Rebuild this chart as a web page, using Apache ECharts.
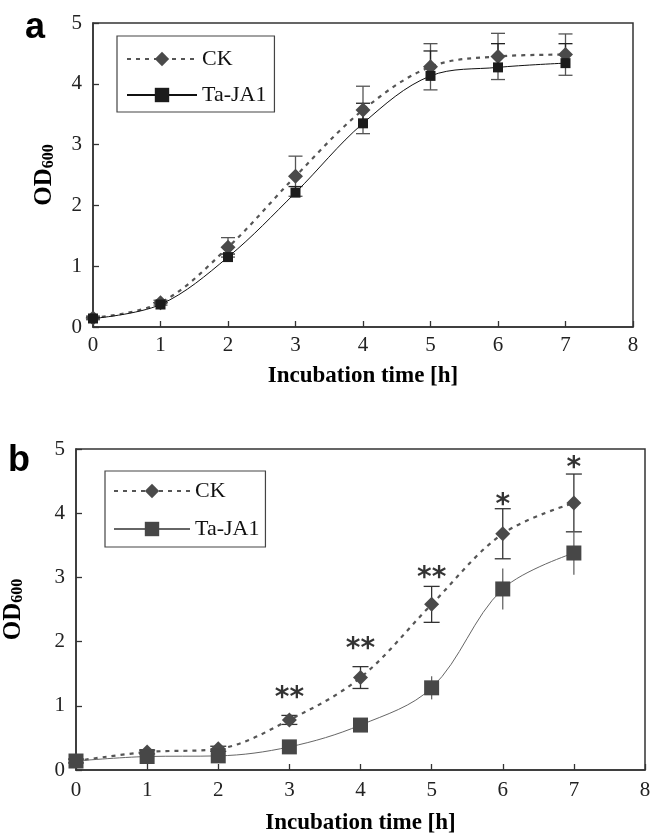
<!DOCTYPE html>
<html>
<head>
<meta charset="utf-8">
<script src="https://cdn.jsdelivr.net/npm/echarts@6/dist/echarts.min.js"></script>
<style>
html,body{margin:0;padding:0;background:#fff;}
#c{width:652px;height:838px;}
</style>
</head>
<body>
<div id="c"></div>
<script>
// ---- data ----
var HOURS = [0, 1, 2, 3, 4, 5, 6, 7];
var X_TICKS = [0, 1, 2, 3, 4, 5, 6, 7, 8];
var Y_TICKS = [0, 1, 2, 3, 4, 5];

// panel a
var CK_A = [0.15, 0.40, 1.31, 2.48, 3.57, 4.28, 4.45, 4.48];
var CK_A_ERR = [0.03, 0.04, 0.16, 0.33, 0.39, 0.38, 0.38, 0.34];
var TA_A = [0.14, 0.37, 1.15, 2.21, 3.35, 4.13, 4.27, 4.34];
var TA_A_ERR = [0.02, 0.03, 0.05, 0.10, 0.33, 0.41, 0.39, 0.32];

// panel b
var CK_B = [0.14, 0.28, 0.33, 0.78, 1.44, 2.58, 3.68, 4.16];
var CK_B_ERR = [0.03, 0.03, 0.04, 0.07, 0.17, 0.28, 0.39, 0.45];
var TA_B = [0.14, 0.21, 0.22, 0.36, 0.70, 1.28, 2.82, 3.38];
var TA_B_ERR = [0.03, 0.03, 0.05, 0.04, 0.06, 0.18, 0.32, 0.34];

// significance marks (panel b)
var STAR_X = [3, 4, 5, 6, 7];
var STAR_Y = [1.22, 1.98, 3.09, 4.22, 4.80];
var STAR_TXT = ['**', '**', '**', '*', '*'];

var SERIES_NAMES = ['CK', 'Ta-JA1'];
var X_TITLE = 'Incubation time [h]';
var PANEL_LETTERS = ['a', 'b'];

// ---- helpers ----
function pairs(xs, ys) { return xs.map(function (x, i) { return [x, ys[i]]; }); }
function errData(xs, ys, es, mode) {
  return xs.map(function (x, i) {
    var lo = mode === 'plus' ? ys[i] : ys[i] - es[i];
    return [x, lo, ys[i] + es[i]];
  });
}
function errSeries(idx, data, color, capLow, capHigh, capW, z) {
  return {
    type: 'custom', xAxisIndex: idx, yAxisIndex: idx, z: z, silent: true,
    data: data,
    renderItem: function (params, api) {
      var x = api.value(0);
      var p1 = api.coord([x, api.value(1)]);
      var p2 = api.coord([x, api.value(2)]);
      var st = { stroke: color, lineWidth: 1.3 };
      var ch = [{ type: 'line', shape: { x1: p1[0], y1: p1[1], x2: p2[0], y2: p2[1] }, style: st }];
      if (capHigh) ch.push({ type: 'line', shape: { x1: p2[0] - capW, y1: p2[1], x2: p2[0] + capW, y2: p2[1] }, style: st });
      if (capLow) ch.push({ type: 'line', shape: { x1: p1[0] - capW, y1: p1[1], x2: p1[0] + capW, y2: p1[1] }, style: st });
      return { type: 'group', children: ch };
    }
  };
}

var SERIF = 'Liberation Serif';
function xAxis(idx) {
  return {
    type: 'value', gridIndex: idx, min: 0, max: 8, interval: 1,
    name: X_TITLE, nameLocation: 'middle', nameGap: idx === 0 ? 38 : 42,
    nameTextStyle: { fontFamily: SERIF, fontWeight: 'bold', fontSize: 23, color: '#000' },
    axisLine: { lineStyle: { color: '#333', width: 1.5 } },
    axisTick: { inside: true, length: 6, lineStyle: { color: '#333', width: 1.3 } },
    axisLabel: { fontFamily: SERIF, fontSize: 21, color: '#222', margin: idx === 0 ? 8 : 10,
      formatter: function (v) { return X_TICKS.indexOf(v) >= 0 ? String(v) : ''; } },
    splitLine: { show: false }
  };
}
function yAxis(idx) {
  return {
    type: 'value', gridIndex: idx, min: 0, max: 5, interval: 1,
    name: '{o|OD}{s|600}', nameLocation: 'middle', nameGap: idx === 0 ? 36 : 50,
    nameTextStyle: {
      rich: {
        o: { fontFamily: SERIF, fontWeight: 'bold', fontSize: 25, color: '#000', lineHeight: 26, verticalAlign: 'bottom' },
        s: { fontFamily: SERIF, fontWeight: 'bold', fontSize: 16, color: '#000', lineHeight: 20, verticalAlign: 'bottom' }
      }
    },
    axisLine: { lineStyle: { color: '#333', width: 1.5 } },
    axisTick: { inside: true, length: 6, lineStyle: { color: '#333', width: 1.3 } },
    axisLabel: { fontFamily: SERIF, fontSize: 21, color: '#222', margin: 11,
      formatter: function (v) { return Y_TICKS.indexOf(v) >= 0 ? String(v) : ''; } },
    splitLine: { show: false }
  };
}

var option = {
  animation: false,
  backgroundColor: '#fff',
  title: [
    { text: PANEL_LETTERS[0], left: 20, top: 5, textStyle: { fontFamily: 'Liberation Sans', fontWeight: 'bold', fontSize: 36, color: '#000' } },
    { text: PANEL_LETTERS[1], left: 3, top: 438, textStyle: { fontFamily: 'Liberation Sans', fontWeight: 'bold', fontSize: 36, color: '#000' } }
  ],
  grid: [
    { left: 93, top: 23, width: 540, height: 304, show: true, borderColor: '#333', borderWidth: 1.5, backgroundColor: 'transparent', outerBoundsMode: 'none', containLabel: false },
    { left: 76, top: 449, width: 569, height: 321, show: true, borderColor: '#333', borderWidth: 1.5, backgroundColor: 'transparent', outerBoundsMode: 'none', containLabel: false }
  ],
  xAxis: [xAxis(0), xAxis(1)],
  yAxis: [yAxis(0), yAxis(1)],
  legend: [
    {
      orient: 'vertical', left: 117, top: 36, itemWidth: 70, itemHeight: 18, itemGap: 14,
      padding: [12, 8, 6, 9], borderColor: '#444', borderWidth: 1.2, backgroundColor: '#fff',
      textStyle: { fontFamily: SERIF, fontSize: 22, color: '#111' },
      data: [{ name: SERIES_NAMES[0] }, { name: SERIES_NAMES[1] }]
    },
    {
      orient: 'vertical', left: 105, top: 471, itemWidth: 76, itemHeight: 18, itemGap: 16,
      padding: [9, 6, 7, 8], borderColor: '#444', borderWidth: 1.2, backgroundColor: '#fff',
      textStyle: { fontFamily: SERIF, fontSize: 22, color: '#111' },
      data: [{ name: SERIES_NAMES[0] }, { name: SERIES_NAMES[1], itemStyle: { color: '#474747' }, lineStyle: { color: '#666' } }]
    }
  ],
  series: [
    // panel a
    errSeries(0, errData(HOURS, CK_A, CK_A_ERR, 'both'), '#555', true, true, 7, 1),
    errSeries(0, errData(HOURS, TA_A, TA_A_ERR, 'plus'), '#222', false, true, 7, 1),
    {
      name: SERIES_NAMES[0], type: 'line', xAxisIndex: 0, yAxisIndex: 0, z: 3,
      data: pairs(HOURS, CK_A), smooth: 0.35,
      symbol: 'diamond', symbolSize: 15,
      itemStyle: { color: '#4a4a4a' },
      lineStyle: { color: '#555', width: 2.2, type: [4, 5] }
    },
    {
      name: SERIES_NAMES[1], type: 'line', xAxisIndex: 0, yAxisIndex: 0, z: 4,
      data: pairs(HOURS, TA_A), smooth: 0.35,
      symbol: 'rect', symbolSize: 10,
      itemStyle: { color: '#1c1c1c' },
      lineStyle: { color: '#111', width: 1 }
    },
    // panel b
    errSeries(1, errData(HOURS, CK_B, CK_B_ERR, 'both'), '#333', true, true, 8, 1),
    errSeries(1, errData(HOURS, TA_B, TA_B_ERR, 'both'), '#666', false, false, 0, 1),
    {
      name: SERIES_NAMES[0], type: 'line', xAxisIndex: 1, yAxisIndex: 1, z: 3,
      data: pairs(HOURS, CK_B), smooth: 0.35,
      symbol: 'diamond', symbolSize: 15,
      itemStyle: { color: '#4a4a4a' },
      lineStyle: { color: '#555', width: 2.2, type: [4, 5] }
    },
    {
      name: SERIES_NAMES[1], type: 'line', xAxisIndex: 1, yAxisIndex: 1, z: 4,
      data: pairs(HOURS, TA_B), smooth: 0.35,
      symbol: 'rect', symbolSize: 15,
      itemStyle: { color: '#474747' },
      lineStyle: { color: '#666', width: 1 }
    },
    {
      type: 'scatter', xAxisIndex: 1, yAxisIndex: 1, z: 5, silent: true,
      symbolSize: 0.01,
      data: STAR_X.map(function (x, i) { return { value: [x, STAR_Y[i]], label: { formatter: STAR_TXT[i] } }; }),
      label: { show: true, position: 'inside', offset: [0, 7], fontFamily: 'DejaVu Sans', fontWeight: 'bold', fontSize: 28, color: '#000' }
    }
  ]
};

var chart = echarts.init(document.getElementById('c'), null, { renderer: 'canvas' });
chart.setOption(option);
</script>
</body>
</html>
